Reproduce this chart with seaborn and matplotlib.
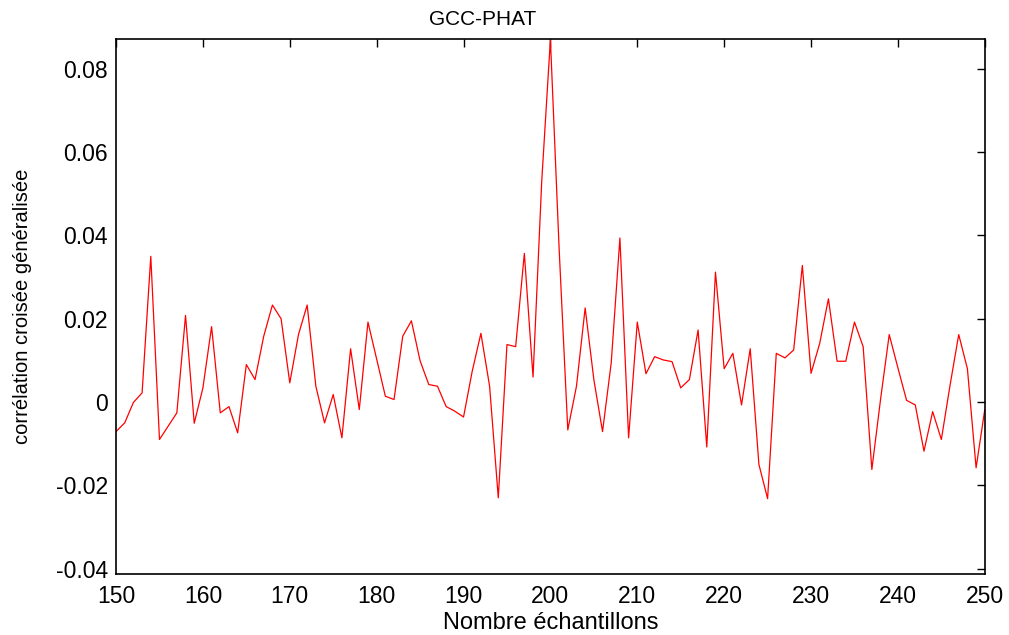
import numpy as np
import pandas as pd
import matplotlib
matplotlib.use("Agg")
import matplotlib.pyplot as plt
import seaborn as sns

# GCC-PHAT generalized cross-correlation, lags 150..250
samples = list(range(150, 251))
correlation = [
    -0.0071, -0.0050, -0.0001, 0.0022, 0.0350, -0.0090, -0.0058, -0.0026, 0.0208, -0.0051,
    0.0034, 0.0181, -0.0026, -0.0011, -0.0074, 0.0090, 0.0054, 0.0158, 0.0233, 0.0200,
    0.0046, 0.0162, 0.0233, 0.0038, -0.0050, 0.0018, -0.0086, 0.0128, -0.0018, 0.0192,
    0.0103, 0.0014, 0.0006, 0.0158, 0.0195, 0.0099, 0.0042, 0.0038, -0.0011, -0.0022,
    -0.0036, 0.0074, 0.0165, 0.0038, -0.0230, 0.0138, 0.0133, 0.0357, 0.0060, 0.0530,
    0.0871, 0.0370, -0.0067, 0.0038, 0.0226, 0.0054, -0.0071, 0.0094, 0.0394, -0.0086,
    0.0192, 0.0068, 0.0109, 0.0101, 0.0097, 0.0034, 0.0054, 0.0173, -0.0108, 0.0312,
    0.0080, 0.0117, -0.0007, 0.0128, -0.0150, -0.0232, 0.0117, 0.0106, 0.0125, 0.0328,
    0.0069, 0.0141, 0.0248, 0.0098, 0.0098, 0.0192, 0.0133, -0.0162, 0.0006, 0.0162,
    0.0082, 0.0004, -0.0007, -0.0118, -0.0023, -0.0090, 0.0040, 0.0162, 0.0080, -0.0158,
    -0.0018,
]

x_ticks = [150, 160, 170, 180, 190, 200, 210, 220, 230, 240, 250]
y_ticks = [-0.04, -0.02, 0.0, 0.02, 0.04, 0.06, 0.08]
y_tick_labels = ["-0.04", "-0.02", "0", "0.02", "0.04", "0.06", "0.08"]

sns.set_style("white")
plt.rcParams["font.family"] = ["Liberation Sans", "DejaVu Sans"]

df = pd.DataFrame({"lag": samples, "corr": correlation})

fig = plt.figure(figsize=(10.09, 6.35), dpi=100)
ax = fig.add_axes([0.115, 0.0961, 0.861, 0.8425])

sns.lineplot(data=df, x="lag", y="corr", color="red", linewidth=0.9, ax=ax)

ax.set_xlim(150, 250)
ax.set_ylim(-0.0413, 0.0872)
ax.set_xticks(x_ticks)
ax.set_xticklabels([str(t) for t in x_ticks])
ax.set_yticks(y_ticks)
ax.set_yticklabels(y_tick_labels)

ax.tick_params(axis="both", which="major", direction="in", length=5.5, width=1.0,
               color="black", labelsize=16.5, labelcolor="black",
               top=True, right=True)
ax.tick_params(axis="x", pad=8)
ax.tick_params(axis="y", pad=6)

for side in ["left", "right", "top", "bottom"]:
    ax.spines[side].set_visible(True)
    ax.spines[side].set_color("black")
    ax.spines[side].set_linewidth(1.2)

ax.set_title("GCC-PHAT", fontsize=15, pad=10, color="black", x=0.422)
ax.set_xlabel("Nombre échantillons", fontsize=17, labelpad=3, color="black")
ax.set_ylabel("corrélation croisée généralisée", fontsize=14.5, labelpad=17, color="black")

fig.savefig("out.png", dpi=100, facecolor="white")
